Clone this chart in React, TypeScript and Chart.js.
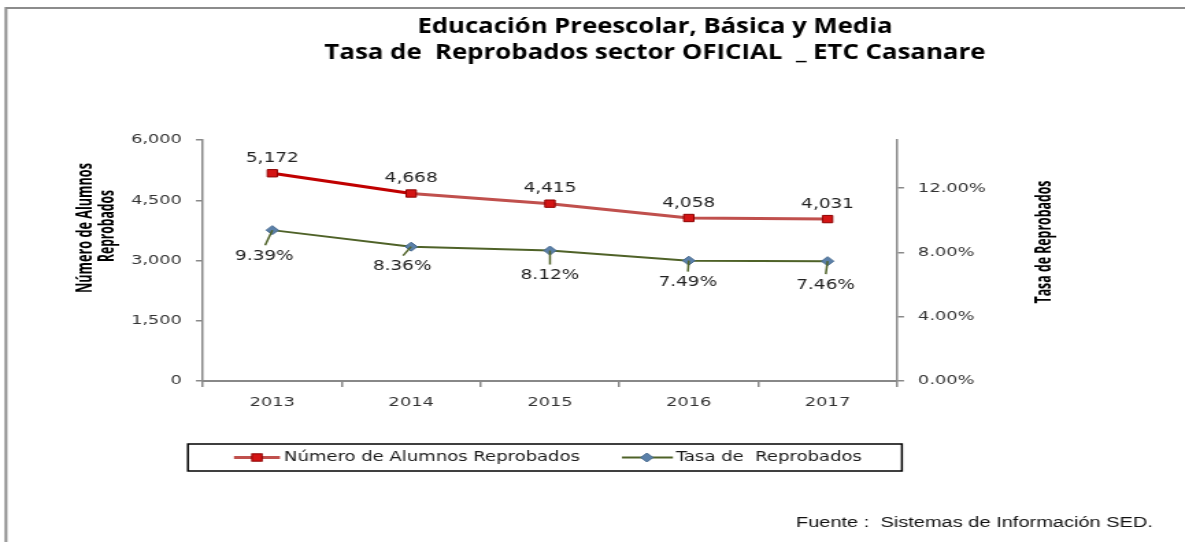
import React, { useEffect, useRef } from "react";
import { Chart, registerables } from "chart.js";

Chart.register(...registerables);

// ---- data ----
const years = ["2013", "2014", "2015", "2016", "2017"];
const alumnosReprobados = [5172, 4668, 4415, 4058, 4031];
const tasaReprobados = [0.0939, 0.0836, 0.0812, 0.0749, 0.0746];
const leftTicks = { min: 0, max: 6000, step: 1500 };
const rightTicks = { min: 0, max: 0.15, step: 0.04 };

const titleLines = [
  "Educación Preescolar, Básica y Media",
  "Tasa de  Reprobados sector OFICIAL  _ ETC Casanare",
];
const leftAxisTitle = ["Número de Alumnos", "Reprobados"];
const rightAxisTitle = "Tasa de Reprobados";
const seriesNames = ["Número de Alumnos Reprobados", "Tasa de  Reprobados"];
const footer = "Fuente :  Sistemas de Información SED.";

// label nudges for the percentage labels (screen px, relative to point)
const pctLabelDx = [-8, -9, 0, -1, -2];
const pctLabelDy = [26, 20, 25, 22, 24];

// ---- layout (screen px); canvas is stretched horizontally by S ----
const SCREEN_W = 1185;
const SCREEN_H = 542;
const S = 1.37;
const CW = Math.round(SCREEN_W / S);
const X = (x: number) => x / S;

const PLOT_L = 203;
const PLOT_R = 897;
const PLOT_T = 140;
const PLOT_B = 381;

const TICK_FONT = { family: "'DejaVu Sans', Verdana, sans-serif", size: 13 };
const TICK_COLOR = "#333333";
const AXIS_COLOR = "#888888";

function drawText(
  ctx: CanvasRenderingContext2D,
  s: string,
  x: number,
  y: number,
  font: string,
  color: string,
  w?: number,
  rot?: boolean,
  align: CanvasTextAlign = "center"
) {
  ctx.save();
  ctx.font = font;
  ctx.fillStyle = color;
  ctx.textBaseline = "middle";
  ctx.textAlign = align;
  ctx.translate(x, y);
  if (rot) ctx.rotate(-Math.PI / 2);
  if (w) {
    const m = ctx.measureText(s).width;
    if (m > 0) ctx.scale(w / m, 1);
  }
  ctx.fillText(s, 0, 0);
  ctx.restore();
}

const decorPlugin = {
  id: "decor",
  afterDraw(chart: any) {
    const ctx: CanvasRenderingContext2D = chart.ctx;
    // outer frame (top + left)
    ctx.save();
    ctx.strokeStyle = "#8c8c8c";
    ctx.lineWidth = 2;
    ctx.beginPath();
    ctx.moveTo(X(6), SCREEN_H);
    ctx.lineTo(X(6), 8);
    ctx.lineTo(CW, 8);
    ctx.stroke();
    ctx.restore();

    // title
    const tf = "bold 21px 'Open Sans', sans-serif";
    drawText(ctx, titleLines[0], X(655), 27, tf, "#000", X(475));
    drawText(ctx, titleLines[1], X(655), 53, tf, "#000", X(661));

    // axis titles
    const af = "bold 16px 'Open Sans', sans-serif";
    drawText(ctx, leftAxisTitle[0], X(85), 228, af, "#000", 130, true);
    drawText(ctx, leftAxisTitle[1], X(108), 226, af, "#000", 72, true);
    drawText(ctx, rightAxisTitle, X(1045), 242, af, "#000", 123, true);

    // data labels
    const lf = "13.5px 'DejaVu Sans', Verdana, sans-serif";
    const m0 = chart.getDatasetMeta(0);
    m0.data.forEach((p: any, i: number) => {
      const v = chart.data.datasets[0].data[i] as number;
      drawText(ctx, v.toLocaleString("en-US"), p.x, p.y - 15, lf, "#222");
    });
    const m1 = chart.getDatasetMeta(1);
    m1.data.forEach((p: any, i: number) => {
      const v = chart.data.datasets[1].data[i] as number;
      const lx = p.x + X(pctLabelDx[i]);
      const ly = p.y + pctLabelDy[i];
      ctx.save();
      ctx.strokeStyle = "#4f6228";
      ctx.lineWidth = 1.5;
      ctx.beginPath();
      ctx.moveTo(p.x, p.y);
      ctx.lineTo(p.x + X(pctLabelDx[i]) * 0.9, ly - 11);
      ctx.stroke();
      ctx.restore();
      drawText(ctx, (v * 100).toFixed(2) + "%", lx, ly, lf, "#222");
    });

    // legend
    ctx.save();
    ctx.strokeStyle = "#000";
    ctx.lineWidth = 1.5;
    ctx.strokeRect(X(188), 444, X(902 - 188), 27);
    ctx.restore();
    const ly = 457.5;
    const ds0 = chart.data.datasets[0];
    const ds1 = chart.data.datasets[1];
    // red item
    ctx.save();
    ctx.strokeStyle = "#c0504d";
    ctx.lineWidth = 3;
    ctx.beginPath();
    ctx.moveTo(X(234), ly);
    ctx.lineTo(X(280), ly);
    ctx.stroke();
    ctx.fillStyle = ds0.pointBackgroundColor;
    ctx.strokeStyle = ds0.pointBorderColor;
    ctx.lineWidth = 1;
    ctx.fillRect(X(257) - 3.7, ly - 3.7, 7.4, 7.4);
    ctx.strokeRect(X(257) - 3.7, ly - 3.7, 7.4, 7.4);
    // green item
    ctx.strokeStyle = ds1.borderColor;
    ctx.lineWidth = 2;
    ctx.beginPath();
    ctx.moveTo(X(622), ly);
    ctx.lineTo(X(673), ly);
    ctx.stroke();
    ctx.fillStyle = ds1.pointBackgroundColor;
    ctx.strokeStyle = ds1.pointBorderColor;
    ctx.lineWidth = 1;
    const cx = X(647);
    ctx.beginPath();
    ctx.moveTo(cx, ly - 4.5);
    ctx.lineTo(cx + 4.5, ly);
    ctx.lineTo(cx, ly + 4.5);
    ctx.lineTo(cx - 4.5, ly);
    ctx.closePath();
    ctx.fill();
    ctx.stroke();
    ctx.restore();
    const legf = "14px 'DejaVu Sans', Verdana, sans-serif";
    drawText(ctx, ds0.label, X(284), ly, legf, "#1a1a1a", X(580 - 284), false, "left");
    drawText(ctx, ds1.label, X(676), ly, legf, "#1a1a1a", X(862 - 676), false, "left");

    // footer
    drawText(ctx, footer, X(974.5), 523, "14px 'Liberation Sans', Arial, sans-serif", "#111", X(357));
  },
};

export default function App() {
  const ref = useRef<HTMLCanvasElement | null>(null);

  useEffect(() => {
    if (!ref.current) return;
    const chart = new Chart(ref.current, {
      type: "line",
      data: {
        labels: years,
        datasets: [
          {
            label: seriesNames[0],
            data: alumnosReprobados,
            yAxisID: "y",
            borderColor: "#c0504d",
            borderWidth: 3,
            segment: {
              borderColor: (c: any) => (c.p0DataIndex === 0 ? "#c00000" : "#c0504d"),
            },
            pointStyle: "rect",
            pointRadius: 5.2,
            pointBackgroundColor: "#d41414",
            pointBorderColor: "#8e0000",
            pointBorderWidth: 1,
            tension: 0,
            fill: false,
          },
          {
            label: seriesNames[1],
            data: tasaReprobados,
            yAxisID: "y1",
            borderColor: "#4f6228",
            borderWidth: 2,
            pointStyle: "rectRot",
            pointRadius: 4.5,
            pointBackgroundColor: "#5b80a9",
            pointBorderColor: "#46698f",
            pointBorderWidth: 1,
            tension: 0,
            fill: false,
          },
        ],
      },
      options: {
        responsive: false,
        animation: false,
        devicePixelRatio: 1,
        layout: { padding: { top: PLOT_T, left: 0, right: 0, bottom: 0 }, autoPadding: false },
        plugins: { legend: { display: false }, title: { display: false }, tooltip: { enabled: false } },
        scales: {
          x: {
            type: "category",
            offset: true,
            grid: { offset: true, drawOnChartArea: false, drawTicks: true, tickLength: 6, color: AXIS_COLOR, lineWidth: 1.5 },
            border: { display: true, color: AXIS_COLOR, width: 2 },
            ticks: { font: TICK_FONT, color: TICK_COLOR, padding: 8, maxRotation: 0, autoSkip: false },
            afterFit: (s: any) => {
              s.height = SCREEN_H - PLOT_B;
            },
          },
          y: {
            type: "linear",
            position: "left",
            min: leftTicks.min,
            max: leftTicks.max,
            grid: { drawOnChartArea: false, drawTicks: true, tickLength: X(7), color: AXIS_COLOR, lineWidth: 1.5 },
            border: { display: true, color: AXIS_COLOR, width: 1.5 },
            ticks: {
              stepSize: leftTicks.step,
              font: TICK_FONT,
              color: TICK_COLOR,
              padding: X(14),
              callback: (v: any) => Number(v).toLocaleString("en-US"),
            },
            afterFit: (s: any) => {
              s.width = X(PLOT_L);
            },
          },
          y1: {
            type: "linear",
            position: "right",
            min: rightTicks.min,
            max: rightTicks.max,
            grid: { drawOnChartArea: false, drawTicks: true, tickLength: X(7), color: AXIS_COLOR, lineWidth: 1.5 },
            border: { display: true, color: AXIS_COLOR, width: 1.5 },
            ticks: {
              stepSize: rightTicks.step,
              includeBounds: false,
              font: TICK_FONT,
              color: TICK_COLOR,
              padding: X(14),
              callback: (v: any) => (Number(v) * 100).toFixed(2) + "%",
            },
            afterFit: (s: any) => {
              s.width = X(SCREEN_W - PLOT_R);
            },
          },
        },
      } as any,
      plugins: [decorPlugin],
    });
    return () => chart.destroy();
  }, []);

  return (
    <canvas
      ref={ref}
      width={CW}
      height={SCREEN_H}
      style={{
        position: "absolute",
        left: 0,
        top: 0,
        width: SCREEN_W + "px",
        height: SCREEN_H + "px",
        display: "block",
        background: "#fff",
      }}
    />
  );
}
